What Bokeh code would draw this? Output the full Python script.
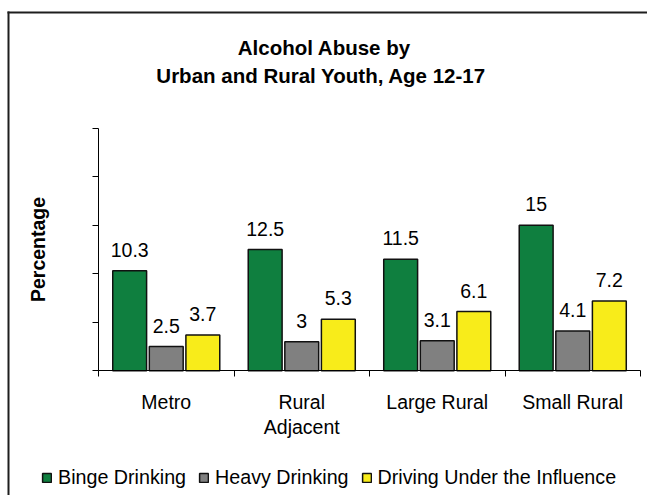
from bokeh.plotting import figure
from bokeh.models import (ColumnDataSource, Range1d, FixedTicker, LabelSet, Label,
                          Legend, LegendItem, BoxAnnotation)
from bokeh.core.properties import value
from bokeh.transform import dodge
from bokeh.embed import file_html
from bokeh.resources import INLINE

# ---- data -------------------------------------------------------------
categories = ["Metro", "Rural\nAdjacent", "Large Rural", "Small Rural"]
binge = [10.3, 12.5, 11.5, 15]
heavy = [2.5, 3, 3.1, 4.1]
dui = [3.7, 5.3, 6.1, 7.2]
series_names = ["Binge Drinking", "Heavy Drinking", "Driving Under the Influence"]
y_ticks = [0, 5, 10, 15, 20, 25]
y_max = 25
title_lines = ["Alcohol Abuse by", "Urban and Rural Youth, Age 12-17"]
y_title = "Percentage"

# ---- layout / styling (pixels on the canvas) --------------------------
W, H = 647, 495
PX_L, PX_R = 98.0, 640.0       # canvas x of the value axis / right end of plot area
PX_T, PX_B = 127.7, 370.3      # canvas y of y_max / of zero
FONT = "Liberation Sans"
FS = "19.5px"
TFS = "20.5px"
colors = ["#0F7F3F", "#808080", "#F8EC1A"]
offsets = [-0.27, 0.0, 0.27]
bar_w = 0.25
n = len(categories)

# the frame covers the whole canvas; ranges chosen so that the plot area
# sits at the pixel box above
xs = (PX_R - PX_L) / n
ys = (PX_B - PX_T) / y_max
x_start, x_end = -PX_L / xs, n + (W - PX_R) / xs
y_end, y_start = y_max + PX_T / ys, -(H - PX_B) / ys


def cx(px):
    return x_start + px / xs


def cy(py):
    return y_end - py / ys


xc = [i + 0.5 for i in range(n)]
src = ColumnDataSource(dict(
    x=xc, binge=binge, heavy=heavy, dui=dui,
    binge_t=[f"{v:g}" for v in binge],
    heavy_t=[f"{v:g}" for v in heavy],
    dui_t=[f"{v:g}" for v in dui],
))

p = figure(width=W, height=H, output_backend="svg", toolbar_location=None,
           x_range=Range1d(x_start, x_end), y_range=Range1d(y_start, y_end),
           min_border=0, title=None)
p.outline_line_color = None
p.grid.visible = False
p.background_fill_color = "white"
p.border_fill_color = "white"

# chart border: left and top edges (the rest runs off the page)
p.add_layout(BoxAnnotation(left=cx(7), right=cx(9), top=cy(11), bottom=cy(H + 5),
                           fill_color="#1e1e1e", fill_alpha=1, line_color=None))
p.add_layout(BoxAnnotation(left=cx(7), right=cx(W + 5), top=cy(11), bottom=cy(13),
                           fill_color="#1e1e1e", fill_alpha=1, line_color=None))

fields = ["binge", "heavy", "dui"]
items = []
for f, c, off, name in zip(fields, colors, offsets, series_names):
    r = p.vbar(x=dodge("x", off), top=f, width=bar_w, source=src,
               fill_color=c, line_color="#111111", line_width=1.5)
    items.append(LegendItem(label=name, renderers=[r]))
    p.add_layout(LabelSet(x=dodge("x", off), y=f, text=f + "_t", source=src,
                          text_align="center", text_baseline="alphabetic",
                          y_offset=14, text_font=value(FONT), text_font_size=FS,
                          text_color="black"))

# x axis, fixed at zero
xa = p.xaxis[0]
xa.fixed_location = 0
xa.bounds = (0, n)
xa.ticker = FixedTicker(ticks=xc, minor_ticks=list(range(n + 1)))
xa.major_label_overrides = {x: c for x, c in zip(xc, categories)}
xa.major_tick_out = 0
xa.major_tick_in = 0
xa.minor_tick_out = 6
xa.minor_tick_in = 0
xa.minor_tick_line_color = "black"
xa.axis_line_color = "black"
xa.major_label_standoff = 14
xa.major_label_text_font = FONT
xa.major_label_text_font_size = FS
xa.major_label_text_color = "black"
xa.major_label_text_line_height = 1.16

# y axis, fixed at x = 0
ya = p.yaxis[0]
ya.fixed_location = 0
ya.bounds = (0, y_max)
ya.ticker = FixedTicker(ticks=y_ticks, minor_ticks=[])
ya.major_label_overrides = {t: "" for t in y_ticks}
ya.major_tick_out = 6
ya.major_tick_in = 0
ya.major_tick_line_color = "black"
ya.axis_line_color = "black"
ya.major_label_standoff = 0
ya.major_label_text_font_size = FS
ya.axis_label = y_title
ya.axis_label_text_font = FONT
ya.axis_label_text_font_size = FS
ya.axis_label_text_font_style = "bold"
ya.axis_label_text_color = "black"
ya.axis_label_standoff = 44

# two-line title
for txt, px_x, px_y in zip(title_lines, [323.8, 320.8], [47, 75]):
    p.add_layout(Label(x=cx(px_x), y=cy(px_y), text=txt, text_align="center",
                       text_baseline="alphabetic", text_font=FONT,
                       text_font_size=TFS, text_font_style="bold",
                       text_color="black"))

legend = Legend(items=items, orientation="horizontal", location=(41, 6.5),
                glyph_width=11, glyph_height=11, label_standoff=6, spacing=12,
                label_height=20, padding=0, margin=0, border_line_color=None,
                background_fill_alpha=0, label_text_font=FONT,
                label_text_font_size="19.7px", label_text_color="black")
p.add_layout(legend)

open("out.html", "w").write(file_html(p, INLINE))
